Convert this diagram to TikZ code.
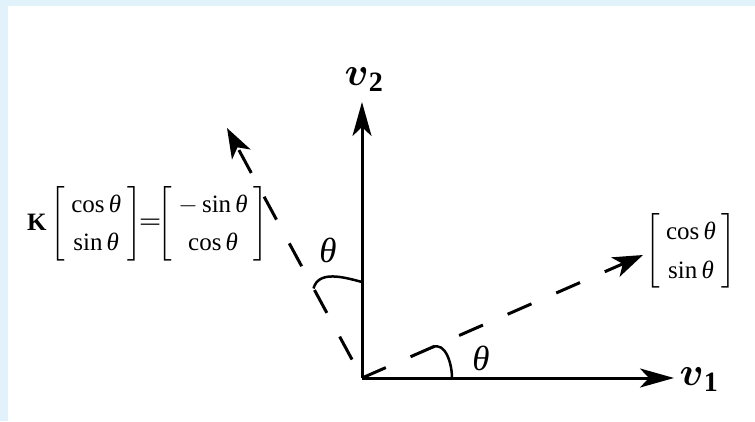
\documentclass[tikz,border=0pt]{standalone}
\usepackage{fix-cm}
\usepackage{amsmath}
\usepackage{fontspec}
\setmainfont{Liberation Serif}
\usetikzlibrary{arrows.meta}
\definecolor{bgblue}{RGB}{225,242,250}
\newcommand{\thet}{\textit{θ}}
\newcommand{\colvec}[2]{\left[\begin{array}{@{\hspace{6pt}}c@{\hspace{6pt}}}#1\\#2\end{array}\right]}
\begin{document}
\begin{tikzpicture}[x=1pt,y=1pt,
  axis/.style={line width=3pt, -{Stealth[length=34pt,width=19pt,inset=9pt]}},
  dvec/.style={line width=3pt, dash pattern=on 26pt off 27pt, -{Stealth[length=30pt,width=21pt,inset=8pt]}},
  anglearc/.style={line width=2.5pt},
  vlbl/.style={inner sep=0pt, font=\fontsize{40}{46}\selectfont},
  thlbl/.style={inner sep=0pt, font=\fontsize{35}{40}\selectfont},
  eqn/.style={inner sep=0pt, font=\fontsize{25}{30}\selectfont}
]
\fill[bgblue] (0,0) rectangle (755,421);
\fill[white] (8,0) rectangle (755,415);
\useasboundingbox (0,0) rectangle (755,421);
\coordinate (O) at (362,43);
\coordinate (Y) at (362,319);
\coordinate (X) at (674,43);
\coordinate (R) at (643,166);
\coordinate (L) at (227,293);
% dashed vectors
\draw[dvec] (O) -- (R);
\draw[dvec, dash phase=32pt] (O) -- (L);
% angle hooks
\coordinate (ra1) at (432.5,73.8);
\coordinate (ra2) at (452,43);
\draw[anglearc] (ra1) to[out=24,in=90] (ra2);
\coordinate (la1) at (362,139);
\coordinate (la2) at (313.5,132.5);
\draw[anglearc] (la1) to[out=165,in=75] (la2);
% axes
\draw[axis] (O) -- (Y);
\draw[axis] (O) -- (X);
% labels
\node[vlbl] (v2) at (364,341) {$\boldsymbol{v}_{\mathbf{2}}$};
\node[vlbl] (v1) at (699,41) {$\boldsymbol{v}_{\mathbf{1}}$};
\node[thlbl] (th2) at (328,171) {\thet};
\node[thlbl] (th1) at (481,63) {\thet};
\node[eqn, anchor=west] (eq) at (27,197) {\renewcommand{\arraystretch}{1.25}$\mathbf{K}\colvec{\text{cos}\,\thet}{\text{sin}\,\thet}\mkern-5mu{\text{\scalebox{1.6}[1]{=}}}\mkern-5.5mu\colvec{-\,\text{sin}\,\thet}{\text{cos}\,\thet}$};
\node[eqn] (rv) at (691,170) {\renewcommand{\arraystretch}{1.3}$\colvec{\text{cos}\,\thet}{\text{sin}\,\thet}$};
\end{tikzpicture}
\end{document}
